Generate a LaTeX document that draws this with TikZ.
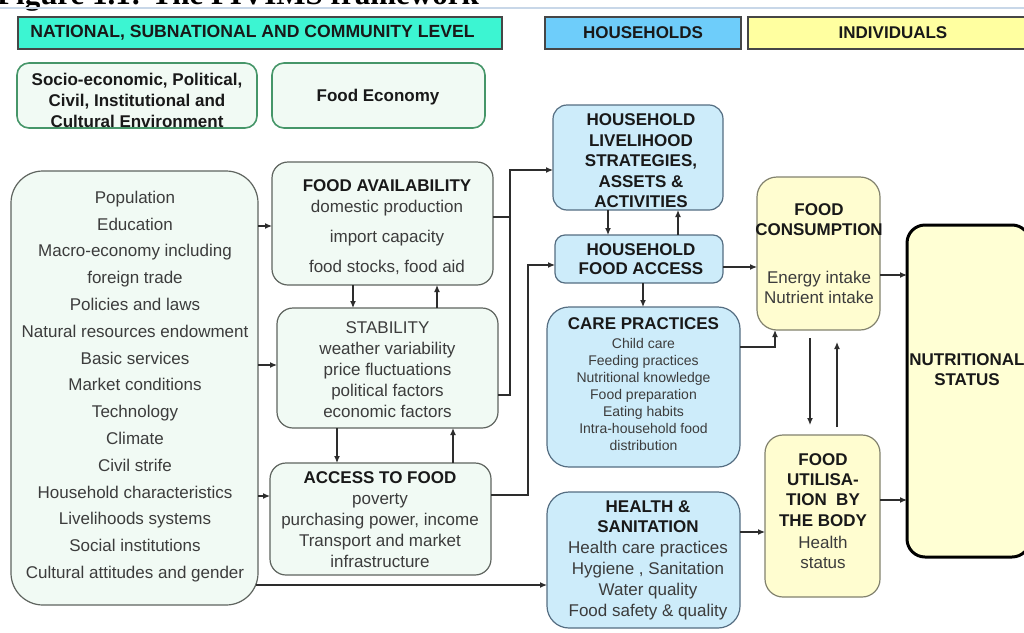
\documentclass[tikz,border=0pt]{standalone}
\usepackage{fontspec}
\setmainfont{Liberation Sans}
\newfontfamily\titlefont{Liberation Serif}
\usetikzlibrary{arrows.meta}

\definecolor{hdrgreen}{RGB}{60,245,210}
\definecolor{hdrblue}{RGB}{110,205,250}
\definecolor{hdryellow}{RGB}{255,255,160}
\definecolor{hdrline}{RGB}{70,70,70}
\definecolor{mintfill}{RGB}{241,250,244}
\definecolor{envline}{RGB}{70,150,105}
\definecolor{greyline}{RGB}{95,100,95}
\definecolor{bluefill}{RGB}{205,236,250}
\definecolor{blueline}{RGB}{85,110,130}
\definecolor{yelfill}{RGB}{255,253,208}
\definecolor{yelline}{RGB}{130,130,110}
\definecolor{nsfill}{RGB}{255,255,212}
\definecolor{linec}{RGB}{45,45,45}
\definecolor{txtdark}{RGB}{25,25,25}
\definecolor{txtgrey}{RGB}{60,60,60}
\definecolor{rulec}{RGB}{200,215,232}

\newcommand\fbig{\fontsize{17}{21}\selectfont}
\newcommand\fsmall{\fontsize{14}{17}\selectfont}

\begin{document}
\begin{tikzpicture}[x=1pt,y=-1pt,
  hdr/.style={draw=hdrline, line width=1.2pt, inner sep=0pt, outer sep=0pt,
    minimum height=32pt, font=\bfseries\fbig, text=txtdark},
  envbox/.style={draw=envline, line width=1.6pt, fill=mintfill,
    rounded corners=12pt, inner sep=0pt, outer sep=0pt},
  gbox/.style={draw=greyline, line width=1.2pt, fill=mintfill,
    rounded corners=16pt, inner sep=0pt, outer sep=0pt},
  bbox/.style={draw=blueline, line width=1.2pt, fill=bluefill,
    rounded corners=14pt, inner sep=0pt, outer sep=0pt},
  ybox/.style={draw=yelline, line width=1.2pt, fill=yelfill,
    rounded corners=20pt, inner sep=0pt, outer sep=0pt},
  txt/.style={inner sep=0pt, align=center, font=\fbig, text=txtgrey},
  btxt/.style={inner sep=0pt, align=center, font=\bfseries\fbig, text=txtdark},
  conn/.style={draw=linec, line width=1.2pt},
  arr/.style={conn, -{Latex[length=7pt,width=6pt]}}
]
\clip (0,0) rectangle (1024,632);
\fill[white] (0,0) rectangle (1024,632);

% caption strip at the top edge
\node[anchor=base west, inner sep=0pt, font=\titlefont\bfseries\fontsize{31}{34}\selectfont,
  text=black] (title) at (-3,4) {Figure 1.1: The FIVIMS framework};
\draw[rulec, line width=1.5pt] (0,8) -- (1024,8);

% level headers
\node[hdr, fill=hdrgreen, minimum width=484pt, font=\bfseries\fontsize{17.6}{21}\selectfont] (natl) at (260,33)
  {NATIONAL, SUBNATIONAL AND COMMUNITY LEVEL\hspace*{15pt}};
\node[hdr, fill=hdrblue, minimum width=196pt] (hh) at (643,33) {HOUSEHOLDS};
\node[hdr, fill=hdryellow, minimum width=290pt] (ind) at (893,33) {INDIVIDUALS};

% environment boxes
\node[envbox, minimum width=240pt, minimum height=65pt] (soc) at (137,95.5) {};
\node[btxt] (soc-t) at (137,100)
  {\fontsize{17}{21.5}\selectfont Socio-economic, Political,\\Civil, Institutional and\\Cultural Environment};
\node[envbox, minimum width=213pt, minimum height=65pt] (fe) at (378.5,95.5) {};
\node[btxt] (fe-t) at (378,97) {Food Economy};

% underlying factors
\node[gbox, rounded corners=32pt, minimum width=247pt, minimum height=434pt] (left) at (134.5,388) {};
\node[txt, font=\fontsize{17}{26.8}\selectfont] (left-t) at (135,386.5)
  {Population\\Education\\Macro-economy including\\foreign trade\\Policies and laws\\
   Natural resources endowment\\Basic services\\Market conditions\\Technology\\Climate\\
   Civil strife\\Household characteristics\\Livelihoods systems\\Social institutions\\
   Cultural attitudes and gender};

% food economy components
\node[gbox, minimum width=221pt, minimum height=123pt] (fa) at (382.5,223.5) {};
\node[txt] (fa-t) at (387,227)
  {\textbf{\color{txtdark}FOOD AVAILABILITY}\\domestic production\\[9pt]import capacity\\[9pt]food stocks, food aid};
\node[gbox, minimum width=221pt, minimum height=120pt] (stab) at (387.5,368) {};
\node[txt] (stab-t) at (387.5,370)
  {STABILITY\\weather variability\\price fluctuations\\political factors\\economic factors};
\node[gbox, minimum width=221pt, minimum height=112pt] (atf) at (380.5,519) {};
\node[txt] (atf-t) at (380,520)
  {\textbf{\color{txtdark}ACCESS TO FOOD}\\poverty\\purchasing power, income\\Transport and market\\infrastructure};

% household level
\node[bbox, minimum width=170pt, minimum height=105pt] (hls) at (638,157.5) {};
\node[btxt, font=\bfseries\fontsize{17}{20.5}\selectfont] (hls-t) at (641,161)
  {HOUSEHOLD\\LIVELIHOOD\\STRATEGIES,\\ASSETS \&\\ACTIVITIES};
\node[bbox, rounded corners=10pt, minimum width=168pt, minimum height=48pt] (hfa) at (639,259) {};
\node[btxt, font=\bfseries\fontsize{17}{19}\selectfont] (hfa-t) at (641,259.5)
  {HOUSEHOLD\\FOOD ACCESS};
\node[bbox, rounded corners=22pt, minimum width=193pt, minimum height=160pt] (care) at (643.5,387) {};
\node[txt, font=\fsmall] (care-t) at (643.5,384)
  {{\bfseries\fbig\color{txtdark}CARE PRACTICES}\\[2pt]Child care\\Feeding practices\\Nutritional knowledge\\
   Food preparation\\Eating habits\\Intra-household food\\distribution};
\node[bbox, rounded corners=22pt, minimum width=193pt, minimum height=136pt] (health) at (643.5,560) {};
\node[txt, font=\fontsize{17}{20.8}\selectfont] (health-t) at (648,560)
  {\textbf{\color{txtdark}HEALTH \&}\\\textbf{\color{txtdark}SANITATION}\\Health care practices\\
   Hygiene , Sanitation\\Water quality\\Food safety \& quality};

% individual level
\node[ybox, minimum width=123pt, minimum height=153pt] (fc) at (818.5,253.5) {};
\node[txt, font=\fontsize{17}{20}\selectfont] (fc-t) at (819,254)
  {\textbf{\color{txtdark}FOOD}\\\textbf{\color{txtdark}CONSUMPTION}\\[28pt]Energy intake\\Nutrient intake};
\node[ybox, rounded corners=18pt, minimum width=115pt, minimum height=162pt] (fu) at (822.5,516) {};
\node[txt, font=\fontsize{17}{20.4}\selectfont] (fu-t) at (823,511)
  {\textbf{\color{txtdark}FOOD}\\\textbf{\color{txtdark}UTILISA-}\\\textbf{\color{txtdark}TION~~BY}\\
   \textbf{\color{txtdark}THE BODY}\\[1.5pt]Health\\status};
\node[draw=black, line width=3pt, fill=nsfill, rounded corners=18pt, inner sep=0pt, outer sep=0pt,
  minimum width=123pt, minimum height=332pt] (ns) at (968.5,391) {};
\node[btxt, font=\bfseries\fontsize{17}{20}\selectfont] (ns-t) at (967,370) {NUTRITIONAL\\STATUS};

% junction points of the merged connectors
\coordinate (j1) at (510,170);
\coordinate (j2) at (528,265);

% underlying factors into the food economy
\draw[arr] (left.east |- 0,226) -- (fa.west |- 0,226);
\draw[arr] (left.east |- 0,365) -- (stab.west |- 0,365);
\draw[arr] (left.east |- 0,496) -- (atf.west |- 0,496);
\draw[arr] ([xshift=-2pt]left.east |- 0,585) -- (health.west |- 0,585);

% loops inside the food economy
\draw[arr] (fa.south -| 353,0) -- (stab.north -| 353,0);
\draw[arr] (stab.north -| 437,0) -- (fa.south -| 437,0);
\draw[arr] (stab.south -| 337,0) -- (atf.north -| 337,0);
\draw[arr] (atf.north -| 453,0) -- (stab.south -| 453,0);

% food economy into households
\draw[arr] (fa.east |- 0,217) -| (j1) -- (hls.west |- j1);
\draw[conn] (stab.east |- 0,395) -| (j1);
\draw[arr] (atf.east |- 0,495) -| (j2) -- (hfa.west |- j2);

% household level links
\draw[arr] (hls.south -| 608,0) -- (hfa.north -| 608,0);
\draw[arr] (hfa.north -| 678,0) -- (hls.south -| 678,0);
\draw[arr] (hfa.south -| 643,0) -- (care.north -| 643,0);

% households into individuals
\draw[arr] (hfa.east |- 0,267) -- (fc.west |- 0,267);
\draw[arr] (care.east |- 0,347) -| (fc.south -| 775,0);
\draw[arr] (health.east |- 0,532) -- (fu.west |- 0,532);
\draw[arr, shorten <=8pt, shorten >=10pt] (fc.south -| 810,0) -- (fu.north -| 810,0);
\draw[arr, shorten <=8pt, shorten >=12pt] (fu.north -| 837,0) -- (fc.south -| 837,0);
\draw[arr] (fc.east |- 0,275) -- (ns.west |- 0,275);
\draw[arr] (fu.east |- 0,500) -- (ns.west |- 0,500);
\end{tikzpicture}
\end{document}
